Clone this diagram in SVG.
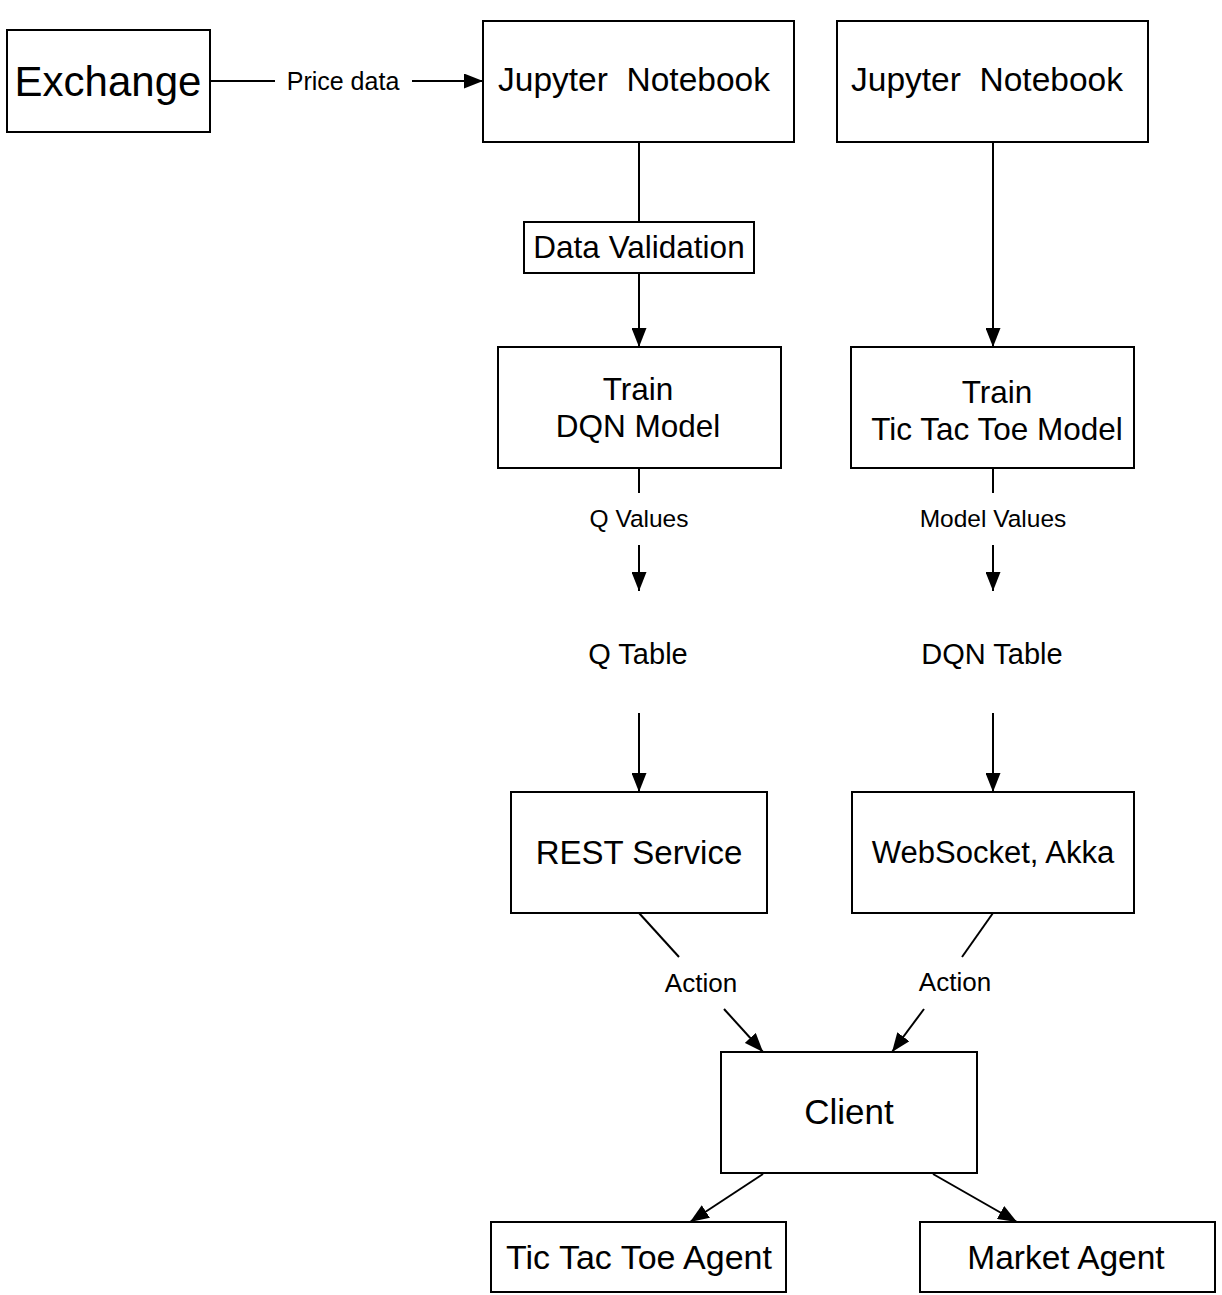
<svg xmlns="http://www.w3.org/2000/svg" width="1222" height="1295" viewBox="0 0 1222 1295">
<style>
  .box { fill: #fff; stroke: #000; stroke-width: 2; }
  .t { font-family: "Liberation Sans", Arial, sans-serif; fill: #000; text-anchor: middle; white-space: pre; }
  .n31 { font-size: 31.5px; }
  .lbl { font-size: 24.5px; }
  .tbl { font-size: 29px; }
  .edge { stroke: #000; stroke-width: 2; fill: none; }
</style>
<defs>
  <marker id="arr" markerUnits="userSpaceOnUse" markerWidth="19" markerHeight="15" refX="19" refY="7.5" orient="auto">
    <path d="M0,0 L19,7.5 L0,15 z" fill="#000"/>
  </marker>
</defs>
<rect width="1222" height="1295" fill="#fff"/>

<g id="connectors">
  <line class="edge" x1="210" y1="81" x2="275" y2="81"/>
  <line class="edge" x1="412" y1="81" x2="483" y2="81" marker-end="url(#arr)"/>
  <text class="t" style="font-size:25px" x="343" y="90">Price data</text>

  <line class="edge" x1="639" y1="142" x2="639" y2="222"/>
  <line class="edge" x1="639" y1="273" x2="639" y2="347" marker-end="url(#arr)"/>

  <line class="edge" x1="993" y1="142" x2="993" y2="347" marker-end="url(#arr)"/>

  <line class="edge" x1="639" y1="468" x2="639" y2="493"/>
  <text class="t lbl" x="639" y="527">Q Values</text>
  <line class="edge" x1="639" y1="545" x2="639" y2="591" marker-end="url(#arr)"/>
  <line class="edge" x1="639" y1="713" x2="639" y2="792" marker-end="url(#arr)"/>

  <line class="edge" x1="993" y1="468" x2="993" y2="493"/>
  <text class="t lbl" x="993" y="527">Model Values</text>
  <line class="edge" x1="993" y1="545" x2="993" y2="591" marker-end="url(#arr)"/>
  <line class="edge" x1="993" y1="713" x2="993" y2="792" marker-end="url(#arr)"/>

  <line class="edge" x1="639" y1="913" x2="679" y2="957"/>
  <text class="t" style="font-size:26px" x="701" y="992">Action</text>
  <line class="edge" x1="724" y1="1009" x2="763" y2="1052" marker-end="url(#arr)"/>

  <line class="edge" x1="993" y1="913" x2="962" y2="957"/>
  <text class="t" style="font-size:26px" x="955" y="991">Action</text>
  <line class="edge" x1="924" y1="1009" x2="892" y2="1052" marker-end="url(#arr)"/>

  <line class="edge" x1="763" y1="1174" x2="690" y2="1222" marker-end="url(#arr)"/>
  <line class="edge" x1="933" y1="1174" x2="1017" y2="1222" marker-end="url(#arr)"/>
</g>

<g id="exchange">
  <rect class="box" x="7" y="30" width="203" height="102"/>
  <text class="t" style="font-size:42px" x="108" y="96">Exchange</text>
</g>
<g id="jupyter1">
  <rect class="box" x="483" y="21" width="311" height="121"/>
  <text class="t" style="font-size:33.5px" x="634" y="91">Jupyter  Notebook</text>
</g>
<g id="jupyter2">
  <rect class="box" x="837" y="21" width="311" height="121"/>
  <text class="t" style="font-size:33.5px" x="987" y="91">Jupyter  Notebook</text>
</g>
<g id="data-validation">
  <rect class="box" x="524" y="222" width="230" height="51"/>
  <text class="t n31" x="639" y="258">Data Validation</text>
</g>
<g id="train-dqn">
  <rect class="box" x="498" y="347" width="283" height="121"/>
  <text class="t n31" x="638" y="400">Train</text>
  <text class="t n31" x="638" y="437">DQN Model</text>
</g>
<g id="train-ttt">
  <rect class="box" x="851" y="347" width="283" height="121"/>
  <text class="t n31" x="997" y="403">Train</text>
  <text class="t n31" x="997" y="440">Tic Tac Toe Model</text>
</g>
<g id="q-table">
  <text class="t tbl" x="638" y="664">Q Table</text>
</g>
<g id="dqn-table">
  <text class="t tbl" x="992" y="664">DQN Table</text>
</g>
<g id="rest-service">
  <rect class="box" x="511" y="792" width="256" height="121"/>
  <text class="t" style="font-size:33px" x="639" y="864">REST Service</text>
</g>
<g id="websocket">
  <rect class="box" x="852" y="792" width="282" height="121"/>
  <text class="t" style="font-size:31px" x="993" y="863">WebSocket, Akka</text>
</g>
<g id="client">
  <rect class="box" x="721" y="1052" width="256" height="121"/>
  <text class="t" style="font-size:35px" x="849" y="1124">Client</text>
</g>
<g id="ttt-agent">
  <rect class="box" x="491" y="1222" width="295" height="70"/>
  <text class="t" style="font-size:34px" x="639" y="1269">Tic Tac Toe Agent</text>
</g>
<g id="market-agent">
  <rect class="box" x="920" y="1222" width="295" height="70"/>
  <text class="t" style="font-size:33.5px" x="1066" y="1269">Market Agent</text>
</g>
</svg>
